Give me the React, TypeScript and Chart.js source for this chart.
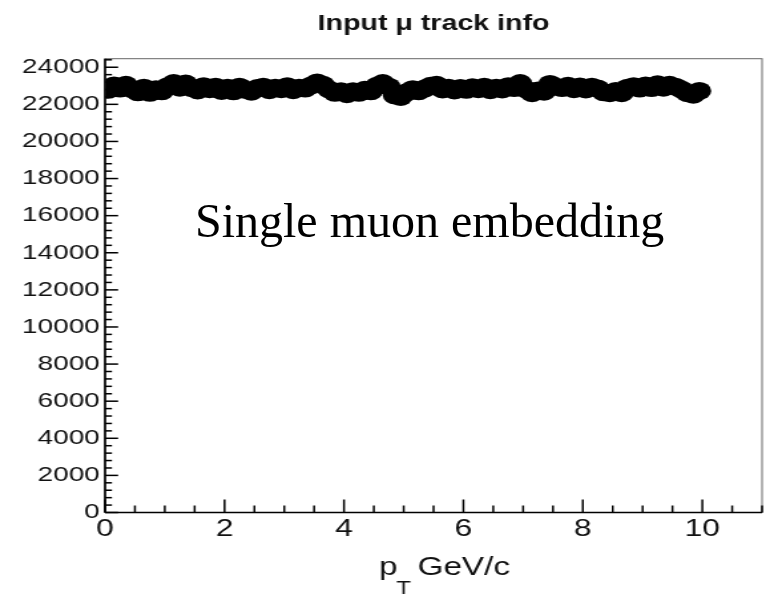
import React, { useEffect, useRef } from "react";
import { Chart, registerables } from "chart.js";

Chart.register(...registerables);

// ---------- data ----------
const TITLE = "Input \u03bc track info";
const X_TITLE_MAIN = "p";
const X_TITLE_SUB = "T";
const X_TITLE_REST = "GeV/c";
const OVERLAY_TEXT = "Single muon embedding";

const X_MIN = 0;
const X_MAX = 11;
const Y_MIN = 0;
const Y_MAX = 24460;

const X_TICKS = [0, 2, 4, 6, 8, 10];
const Y_TICKS = [0, 2000, 4000, 6000, 8000, 10000, 12000, 14000, 16000, 18000, 20000, 22000, 24000];
const X_MINOR_STEP = 0.5;
const Y_MINOR_STEP = 400;

const BIN_CENTERS = [
  0.05, 0.15, 0.25, 0.35, 0.45, 0.55, 0.65, 0.75, 0.85, 0.95,
  1.05, 1.15, 1.25, 1.35, 1.45, 1.55, 1.65, 1.75, 1.85, 1.95,
  2.05, 2.15, 2.25, 2.35, 2.45, 2.55, 2.65, 2.75, 2.85, 2.95,
  3.05, 3.15, 3.25, 3.35, 3.45, 3.55, 3.65, 3.75, 3.85, 3.95,
  4.05, 4.15, 4.25, 4.35, 4.45, 4.55, 4.65, 4.75, 4.85, 4.95,
  5.05, 5.15, 5.25, 5.35, 5.45, 5.55, 5.65, 5.75, 5.85, 5.95,
  6.05, 6.15, 6.25, 6.35, 6.45, 6.55, 6.65, 6.75, 6.85, 6.95,
  7.05, 7.15, 7.25, 7.35, 7.45, 7.55, 7.65, 7.75, 7.85, 7.95,
  8.05, 8.15, 8.25, 8.35, 8.45, 8.55, 8.65, 8.75, 8.85, 8.95,
  9.05, 9.15, 9.25, 9.35, 9.45, 9.55, 9.65, 9.75, 9.85, 9.95,
];

const COUNTS = [
  22780, 23020, 22850, 23050, 22820, 22650, 22900, 22620, 22820, 22700,
  22980, 23150, 22900, 23120, 22880, 22750, 22980, 22820, 22950, 22720,
  22900, 22700, 22950, 22780, 22680, 22880, 22950, 22760, 22900, 22820,
  22980, 22760, 22900, 22850, 23020, 23180, 23050, 22800, 22620, 22700,
  22550, 22700, 22620, 22780, 22700, 23000, 23150, 22950, 22480, 22400,
  22650, 22820, 22700, 22850, 23000, 23050, 22800, 22900, 22750, 22880,
  22780, 22920, 22820, 22950, 22760, 22900, 22800, 22980, 22880, 23150,
  22800, 22600, 22750, 22680, 23100, 22950, 22880, 23000, 22820, 22960,
  22800, 22950, 22850, 22650, 22600, 22720, 22600, 22900, 22980, 22850,
  23020, 22880, 23080, 22900, 23050, 22950, 22800, 22600, 22520, 22720,
];

// ---------- layout ----------
const PAGE_W = 774;
const PAGE_H = 594;
const CANVAS_W = 582;
const STRETCH = PAGE_W / CANVAS_W;
const SANS = '"Liberation Sans", Arial, Helvetica, sans-serif';

const rootStyle = {
  id: "rootStyle",
  afterDatasetsDraw(chart: any) {
    const { ctx, chartArea: a, scales } = chart;
    const xs = scales.x;
    const ys = scales.y;
    const line = (x1: number, y1: number, x2: number, y2: number) => {
      ctx.beginPath();
      ctx.moveTo(x1, y1);
      ctx.lineTo(x2, y2);
      ctx.stroke();
    };
    ctx.save();
    // frame
    ctx.strokeStyle = "#666";
    ctx.lineWidth = 1;
    ctx.strokeRect(a.left, a.top, a.right - a.left, a.bottom - a.top);
    // axes
    ctx.strokeStyle = "#000";
    ctx.lineWidth = 1.6;
    line(a.left, a.top, a.left, a.bottom);
    line(a.left, a.bottom, a.right, a.bottom);
    // y tick marks (inside)
    ctx.lineWidth = 1.5;
    for (let v = Y_MIN; v <= Y_MAX; v += Y_MINOR_STEP) {
      const py = ys.getPixelForValue(v);
      const len = Y_TICKS.includes(v) ? 9.8 : 5.2;
      line(a.left, py, a.left + len, py);
    }
    // x tick marks (inside)
    for (let i = 0; X_MIN + i * X_MINOR_STEP <= X_MAX; i++) {
      const v = X_MIN + i * X_MINOR_STEP;
      const px = xs.getPixelForValue(v);
      const len = X_TICKS.includes(v) ? 13 : 7;
      line(px, a.bottom, px, a.bottom - len);
    }
    ctx.restore();
  },
  afterDraw(chart: any) {
    const { ctx, chartArea: a } = chart;
    ctx.save();
    ctx.fillStyle = "#111";
    ctx.textBaseline = "alphabetic";
    // title
    ctx.font = `bold 21.5px ${SANS}`;
    ctx.textAlign = "center";
    ctx.fillText(TITLE, (a.left + a.right) / 2, 30);
    // x axis title with subscript
    ctx.textAlign = "left";
    ctx.font = `25px ${SANS}`;
    const px0 = 285;
    ctx.fillText(X_TITLE_MAIN, px0, 575);
    const wp = ctx.measureText(X_TITLE_MAIN).width;
    ctx.font = `18px ${SANS}`;
    ctx.fillText(X_TITLE_SUB, px0 + wp - 1, 594);
    ctx.font = `25px ${SANS}`;
    ctx.fillText(X_TITLE_REST, 314, 575);
    ctx.restore();
  },
};

export default function App() {
  const ref = useRef<HTMLCanvasElement | null>(null);

  useEffect(() => {
    if (!ref.current) return;
    Chart.defaults.font.family = SANS;
    const chart = new Chart(ref.current, {
      type: "scatter",
      data: {
        datasets: [
          {
            data: BIN_CENTERS.map((x, i) => ({ x, y: COUNTS[i] })),
            pointRadius: 9,
            pointHoverRadius: 9,
            pointBackgroundColor: "#000",
            pointBorderColor: "#000",
            pointBorderWidth: 0,
            showLine: false,
          },
        ],
      },
      options: {
        animation: false,
        responsive: false,
        devicePixelRatio: 1,
        layout: { padding: { top: 58.7, right: 0.8, left: 0, bottom: 0 } },
        plugins: {
          legend: { display: false },
          tooltip: { enabled: false },
          title: { display: false },
        },
        scales: {
          x: {
            type: "linear",
            position: "bottom",
            min: X_MIN,
            max: X_MAX,
            grid: { display: false, drawTicks: false },
            border: { display: false },
            afterBuildTicks: (s: any) => {
              s.ticks = X_TICKS.map((value) => ({ value }));
            },
            afterFit: (s: any) => {
              s.height = PAGE_H - 512.5;
            },
            ticks: {
              autoSkip: false,
              maxRotation: 0,
              padding: 2,
              color: "#111",
              font: { size: 24 },
              callback: (v: any) => String(v),
            },
          },
          y: {
            type: "linear",
            min: Y_MIN,
            max: Y_MAX,
            grid: { display: false, drawTicks: false },
            border: { display: false },
            afterBuildTicks: (s: any) => {
              s.ticks = Y_TICKS.map((value) => ({ value }));
            },
            afterFit: (s: any) => {
              s.width = 79;
            },
            ticks: {
              padding: 4,
              color: "#111",
              font: { size: 21 },
              callback: (v: any) => String(v),
            },
          },
        },
      },
      plugins: [rootStyle],
    });
    return () => chart.destroy();
  }, []);

  return (
    <div
      style={{
        position: "fixed",
        left: 0,
        top: 0,
        width: PAGE_W,
        height: PAGE_H,
        overflow: "hidden",
        background: "#fff",
      }}
    >
      <div
        style={{
          width: CANVAS_W,
          height: PAGE_H,
          transform: `scaleX(${STRETCH})`,
          transformOrigin: "0 0",
        }}
      >
        <canvas ref={ref} width={CANVAS_W} height={PAGE_H} />
      </div>
      <div
        style={{
          position: "absolute",
          left: 195,
          top: 196,
          fontFamily: '"Liberation Serif", "Times New Roman", serif',
          fontSize: 48,
          lineHeight: "49px",
          whiteSpace: "nowrap",
          color: "#000",
        }}
      >
        {OVERLAY_TEXT}
      </div>
    </div>
  );
}
